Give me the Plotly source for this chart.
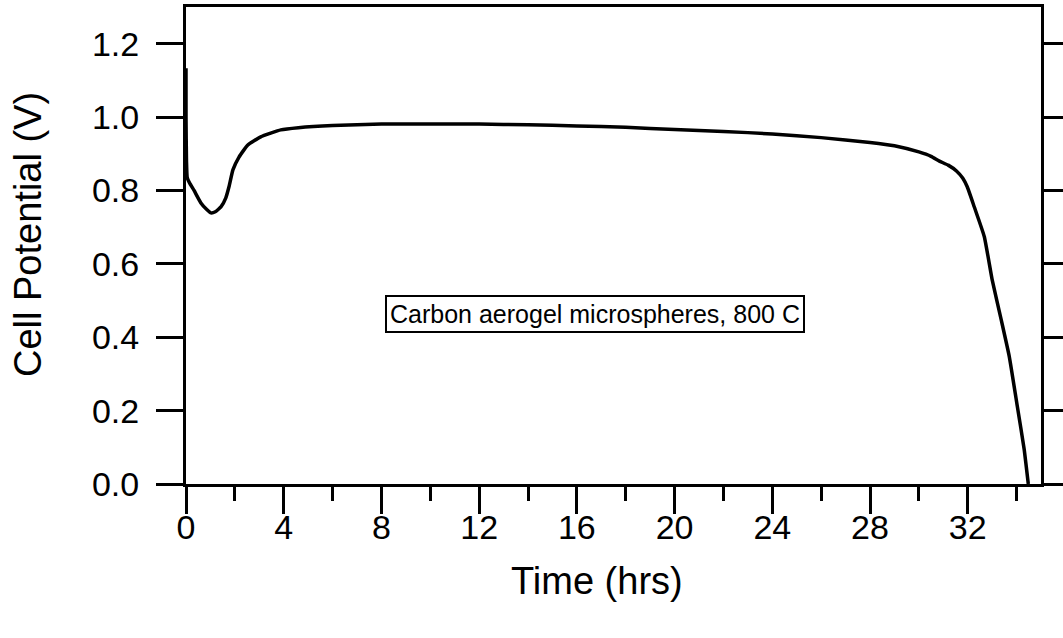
import plotly.graph_objects as go

time_hrs = [0.0, 0.0, 0.02, 0.05, 0.15, 0.33, 0.61, 0.85, 1.02, 1.2, 1.43, 1.63, 1.76, 1.92,
            2.17, 2.53, 3.06, 3.88, 4.6, 6.0, 8.0, 10.0, 12.0, 14.0, 16.0, 18.0, 20.0, 22.0,
            24.0, 26.0, 28.0, 29.0, 30.0, 30.5, 30.84, 31.2, 31.54, 31.8, 31.98, 32.27, 32.68,
            33.0, 33.37, 33.7, 34.03, 34.31, 34.48]
cell_potential = [1.133, 1.0, 0.88, 0.835, 0.82, 0.80, 0.766, 0.748, 0.739, 0.742, 0.755, 0.78,
                  0.81, 0.856, 0.891, 0.924, 0.946, 0.965, 0.971, 0.977, 0.981, 0.981, 0.981,
                  0.979, 0.976, 0.972, 0.966, 0.961, 0.954, 0.944, 0.931, 0.922, 0.905, 0.893,
                  0.880, 0.869, 0.853, 0.833, 0.81, 0.755, 0.674, 0.557, 0.448, 0.348, 0.212,
                  0.095, 0.0]

x_ticks = [0, 4, 8, 12, 16, 20, 24, 28, 32]
y_ticks = [0.0, 0.2, 0.4, 0.6, 0.8, 1.0, 1.2]
y_tick_labels = ["0.0", "0.2", "0.4", "0.6", "0.8", "1.0", "1.2"]

FONT = "Liberation Sans, Arial, sans-serif"
L, R, T, B = 186, 22, 7, 154
W, H = 1063, 638

fig = go.Figure()
fig.add_trace(go.Scatter(x=time_hrs, y=cell_potential, mode="lines",
                         line=dict(color="black", width=3.5, shape="spline", smoothing=0.4),
                         showlegend=False, hoverinfo="skip"))

fig.update_layout(
    width=W, height=H,
    margin=dict(l=L, r=R, t=T, b=B, autoexpand=False),
    paper_bgcolor="white", plot_bgcolor="white",
    font=dict(family=FONT, color="black"),
    xaxis=dict(range=[0, 35], tickvals=x_ticks, ticks="outside", ticklen=27, tickwidth=3,
               tickcolor="black", showline=True, linecolor="black", linewidth=3,
               mirror=True, showgrid=False, zeroline=False, automargin=False,
               ticklabelstandoff=-16,
               tickfont=dict(size=34, family=FONT, color="black"),
               minor=dict(dtick=2, tick0=0, ticks="outside", ticklen=14, tickwidth=3,
                          tickcolor="black", showgrid=False)),
    yaxis=dict(range=[0, 1.3], tickvals=y_ticks, ticktext=y_tick_labels, ticks="outside",
               ticklen=27, tickwidth=3, tickcolor="black", showline=True, linecolor="black",
               linewidth=3, mirror="allticks", showgrid=False, zeroline=False,
               automargin=False, ticklabelstandoff=10,
               tickfont=dict(size=34, family=FONT, color="black")),
    annotations=[
        dict(text="Carbon aerogel microspheres, 800 C", x=16.75, y=0.462, xref="x", yref="y",
             showarrow=False, font=dict(size=25, family=FONT, color="black"),
             bordercolor="black", borderwidth=2, borderpad=3, bgcolor="white"),
        dict(text="Time (hrs)", x=(597 - L) / (W - L - R), y=(H - B - 581) / (H - T - B),
             xref="paper", yref="paper", showarrow=False, xanchor="center", yanchor="middle",
             font=dict(size=38, family=FONT, color="black")),
        dict(text="Cell Potential (V)", x=(28 - L) / (W - L - R), y=(H - B - 235) / (H - T - B),
             xref="paper", yref="paper", showarrow=False, textangle=-90,
             xanchor="center", yanchor="middle",
             font=dict(size=38, family=FONT, color="black")),
    ],
)

fig.write_html("out.html")
